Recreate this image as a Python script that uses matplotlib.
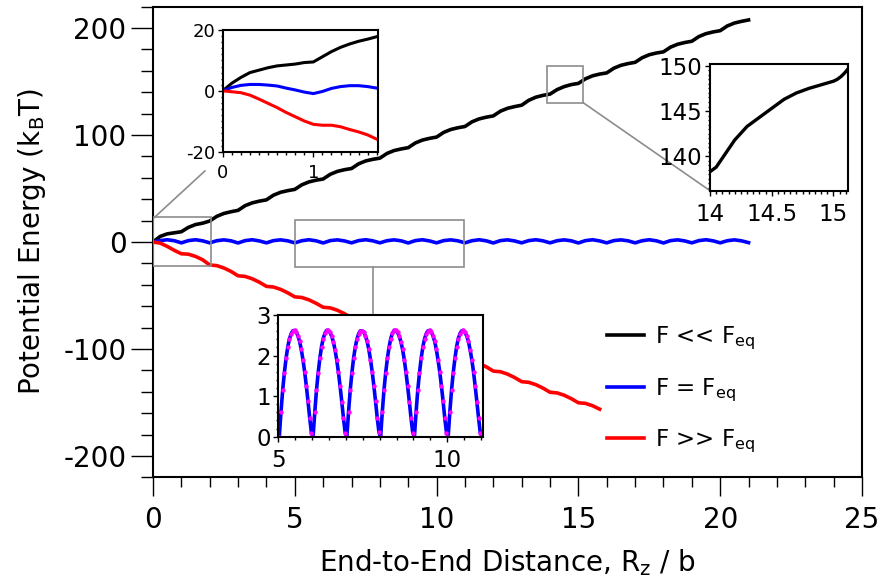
import numpy as np
import matplotlib
matplotlib.use("Agg")
import matplotlib.pyplot as plt
from matplotlib.ticker import MultipleLocator
from matplotlib.patches import Rectangle

plt.rcParams['font.family'] = ['DejaVu Sans']
plt.rcParams['mathtext.default'] = 'regular'
plt.rcParams['axes.unicode_minus'] = False

# ---------------- data ----------------
# main panel: potential energy vs end-to-end distance (step 0.25)
x_black = np.arange(0, 21.001, 0.25)
e_low = [0.0, 5.2, 7.6, 8.6,
         9.6, 13.7, 16.3, 17.6,
         19.6, 24.0, 26.7, 28.3,
         29.6, 34.0, 36.6, 38.2,
         39.4, 43.8, 46.5, 48.0,
         49.2, 53.5, 56.2, 57.8,
         58.9, 63.3, 66.0, 67.6,
         68.7, 73.1, 75.8, 77.3,
         78.4, 82.8, 85.5, 87.0,
         88.2, 92.6, 95.3, 96.9,
         98.1, 102.5, 105.2, 106.8,
         108.0, 112.4, 115.1, 116.7,
         117.9, 122.3, 125.0, 126.6,
         127.9, 132.5, 135.4, 137.1,
         138.3, 142.5, 145.3, 147.2,
         148.3, 152.6, 155.4, 157.0,
         158.1, 162.5, 165.2, 166.8,
         168.0, 172.3, 175.1, 176.7,
         177.8, 182.2, 184.9, 186.5,
         187.7, 192.1, 194.8, 196.4,
         197.6, 202.0, 204.7, 206.3,
         207.6]

x_blue = np.arange(0, 21.001, 0.25)
e_eq = [0.0, 1.3, 2.1, 1.2,
        -0.8, 1.3, 2.1, 1.1,
        -0.8, 1.2, 2.0, 1.1,
        -0.9, 1.3, 2.1, 1.0,
        -0.8, 1.3, 2.0, 1.1,
        -0.8, 1.2, 2.1, 1.1,
        -0.9, 1.3, 2.0, 1.0,
        -0.8, 1.3, 2.1, 1.1,
        -0.8, 1.2, 2.0, 1.1,
        -0.9, 1.3, 2.1, 1.0,
        -0.8, 1.3, 2.0, 1.1,
        -0.8, 1.2, 2.1, 1.1,
        -0.9, 1.3, 2.0, 1.0,
        -0.8, 1.3, 2.1, 1.1,
        -0.8, 1.2, 2.0, 1.1,
        -0.9, 1.3, 2.1, 1.0,
        -0.8, 1.3, 2.0, 1.1,
        -0.8, 1.2, 2.1, 1.1,
        -0.9, 1.3, 2.0, 1.0,
        -0.8, 1.3, 2.1, 1.1,
        -0.8, 1.2, 2.0, 1.1,
        -0.6]

x_red = np.arange(0, 15.751, 0.25)
e_high = [0.0, -1.0, -4.1, -7.8,
          -11.0, -11.4, -13.5, -16.6,
          -21.5, -22.1, -24.3, -27.5,
          -31.6, -32.2, -34.4, -37.6,
          -41.5, -42.1, -44.3, -47.5,
          -51.3, -51.9, -54.1, -57.3,
          -61.0, -61.6, -63.8, -67.0,
          -70.8, -71.4, -73.6, -76.8,
          -80.7, -81.3, -83.5, -86.7,
          -90.6, -91.2, -93.4, -96.6,
          -100.6, -101.2, -103.4, -106.6,
          -110.7, -111.3, -113.5, -116.7,
          -120.7, -121.3, -123.5, -126.7,
          -130.6, -131.2, -133.4, -136.6,
          -140.5, -141.1, -143.3, -146.5,
          -150.3, -150.9, -153.1, -156.3]

# inset: first two monomers (step 0.1)
x_start = np.arange(0, 1.701, 0.1)
start_low = [0.0, 2.5, 4.4, 6.0, 6.8, 7.6, 8.2, 8.5, 8.8, 9.3, 9.5,
             11.2, 12.9, 14.3, 15.4, 16.3, 17.0, 17.8]
start_eq = [0.0, 1.1, 1.8, 2.1, 2.1, 1.9, 1.6, 0.9, 0.3, -0.4, -0.9,
            -0.2, 0.8, 1.4, 1.7, 1.7, 1.4, 0.9]
start_high = [0.0, -0.3, -0.6, -1.4, -2.7, -4.1, -5.5, -7.1, -8.5, -9.9, -11.0,
              -11.3, -11.3, -11.8, -12.7, -13.5, -14.5, -15.9]

# inset: one step of the low-force curve
x_step = [14.0, 14.05, 14.1, 14.15, 14.2, 14.3, 14.4, 14.5, 14.6, 14.7,
          14.8, 14.9, 14.95, 15.0, 15.03, 15.06, 15.09, 15.12]
step_low = [138.3, 138.8, 139.8, 140.8, 141.8, 143.3, 144.3, 145.3, 146.3, 147.0,
            147.5, 147.9, 148.1, 148.3, 148.5, 148.8, 149.2, 149.7]

# inset: equilibrium-force barrier profile
x_barrier = np.arange(5.03, 11.031, 0.05)
barrier = [0.00, 0.62, 1.15, 1.58, 1.93, 2.21, 2.41, 2.54, 2.61, 2.62,
           2.58, 2.49, 2.35, 2.15, 1.90, 1.60, 1.25, 0.87, 0.46, 0.10,
           0.00, 0.60, 1.14, 1.57, 1.93, 2.22, 2.42, 2.55, 2.62, 2.62,
           2.57, 2.48, 2.34, 2.14, 1.89, 1.59, 1.24, 0.86, 0.45, 0.10,
           0.00, 0.61, 1.15, 1.58, 1.94, 2.21, 2.41, 2.54, 2.61, 2.61,
           2.58, 2.49, 2.35, 2.15, 1.90, 1.60, 1.25, 0.87, 0.46, 0.11,
           0.00, 0.62, 1.16, 1.58, 1.93, 2.21, 2.42, 2.55, 2.62, 2.62,
           2.57, 2.48, 2.34, 2.15, 1.90, 1.59, 1.24, 0.86, 0.46, 0.10,
           0.00, 0.61, 1.15, 1.57, 1.93, 2.21, 2.41, 2.54, 2.61, 2.62,
           2.58, 2.49, 2.35, 2.15, 1.89, 1.60, 1.25, 0.87, 0.45, 0.10,
           0.00, 0.62, 1.15, 1.58, 1.93, 2.22, 2.42, 2.54, 2.61, 2.62,
           2.57, 2.48, 2.35, 2.14, 1.90, 1.60, 1.24, 0.86, 0.46, 0.10,
           0.00]

labels = [r'F << F$_{\rm eq}$', r'F = F$_{\rm eq}$', r'F >> F$_{\rm eq}$']

# ---------------- figure ----------------
W, H = 883, 580
fig = plt.figure(figsize=(W / 100, H / 100), dpi=100)


def axes_px(left, top, right, bottom):
    return fig.add_axes([left / W, 1 - bottom / H, (right - left) / W, (bottom - top) / H])


GRAY = '#8c8c8c'
LW = 2.6

ax = axes_px(153, 6.7, 862, 477.3)
l1, = ax.plot(x_black, e_low, color='black', lw=LW)
l2, = ax.plot(x_blue, e_eq, color='#0000ff', lw=LW)
l3, = ax.plot(x_red, e_high, color='#ff0000', lw=LW)

ax.set_xlim(0, 25)
ax.set_ylim(-220, 220)
ax.xaxis.set_major_locator(MultipleLocator(5))
ax.xaxis.set_minor_locator(MultipleLocator(1))
ax.yaxis.set_major_locator(MultipleLocator(100))
ax.yaxis.set_minor_locator(MultipleLocator(20))
ax.tick_params(which='both', direction='out', width=1.0, labelsize=20)
ax.tick_params(axis='x', which='major', length=14, pad=7)
ax.tick_params(axis='x', which='minor', length=7)
ax.tick_params(axis='y', which='major', length=16, pad=3)
ax.tick_params(axis='y', which='minor', length=8.5)
for s in ax.spines.values():
    s.set_linewidth(1.5)

ax.set_xlabel(r'End-to-End Distance, R$_{\rm z}$ / b', fontsize=20, labelpad=9)
ax.set_ylabel(r'Potential Energy (k$_{\rm B}$T)', fontsize=20, labelpad=11)

# zoom regions and connectors
for (x0, y0, w, h) in [(0.0, -22.4, 2.03, 45.4), (13.88, 130.2, 1.29, 34.4), (5.0, -23.7, 5.97, 44.2)]:
    ax.add_patch(Rectangle((x0, y0), w, h, fill=False, ec=GRAY, lw=1.2, zorder=3))
ax.plot([0.05, 1.83], [23.0, 66.4], color=GRAY, lw=1.2)
ax.plot([15.17, 19.64], [130.2, 48.0], color=GRAY, lw=1.2)
ax.plot([7.76, 7.76], [-23.7, -68.3], color=GRAY, lw=1.2)

ax.legend([l1, l2, l3], labels, loc='upper left',
          bbox_to_anchor=(607 / W, 1 - 325 / H), bbox_transform=fig.transFigure,
          frameon=False, fontsize=16.5, handlelength=1.6, handletextpad=0.5,
          labelspacing=1.05, borderpad=0, borderaxespad=0)


def style_inset(a, size):
    a.tick_params(which='both', direction='out', width=1.0, labelsize=size,
                  top=False, right=False)
    a.tick_params(which='major', length=3.5, pad=2)
    a.tick_params(which='minor', length=1.8)
    for s in a.spines.values():
        s.set_linewidth(1.5)


# inset: start of the stretch
a1 = axes_px(222.7, 30, 377.7, 151.7)
a1.plot(x_start, start_low, color='black', lw=2.2)
a1.plot(x_start, start_eq, color='#0000ff', lw=2.2)
a1.plot(x_start, start_high, color='#ff0000', lw=2.2)
a1.set_xlim(0, 1.71)
a1.set_ylim(-20, 20)
a1.xaxis.set_major_locator(MultipleLocator(1))
a1.xaxis.set_minor_locator(MultipleLocator(0.1))
a1.yaxis.set_major_locator(MultipleLocator(20))
a1.yaxis.set_minor_locator(MultipleLocator(2))
style_inset(a1, 13)
a1.tick_params(axis='x', which='major', pad=5)

# inset: one monomer step at low force
a2 = axes_px(710, 64, 848.3, 190.7)
a2.plot(x_step, step_low, color='black', lw=2.4)
a2.set_xlim(14, 15.12)
a2.set_ylim(136.2, 150.2)
a2.xaxis.set_major_locator(MultipleLocator(0.5))
a2.xaxis.set_minor_locator(MultipleLocator(0.05))
a2.yaxis.set_major_locator(MultipleLocator(5))
a2.yaxis.set_minor_locator(MultipleLocator(0.5))
a2.set_xticks([14, 14.5, 15])
a2.set_xticklabels(['14', '14.5', '15'])
style_inset(a2, 16.5)
a2.tick_params(axis='x', which='major', pad=5)

# inset: barriers at the equilibrium force
a3 = axes_px(278.3, 315, 483.3, 436.7)
a3.plot(x_barrier, barrier, color='#0000ff', lw=2.6)
a3.plot(x_barrier, barrier, ls='none', marker='o', ms=3.2, mew=0,
        color='#ff00ff')
a3.set_xlim(5, 11.07)
a3.set_ylim(0, 3)
a3.xaxis.set_major_locator(MultipleLocator(5))
a3.xaxis.set_minor_locator(MultipleLocator(0.5))
a3.yaxis.set_major_locator(MultipleLocator(1))
a3.yaxis.set_minor_locator(MultipleLocator(0.2))
style_inset(a3, 16.5)
a3.tick_params(axis='x', which='major', pad=5)

fig.savefig('out.png', dpi=100)
